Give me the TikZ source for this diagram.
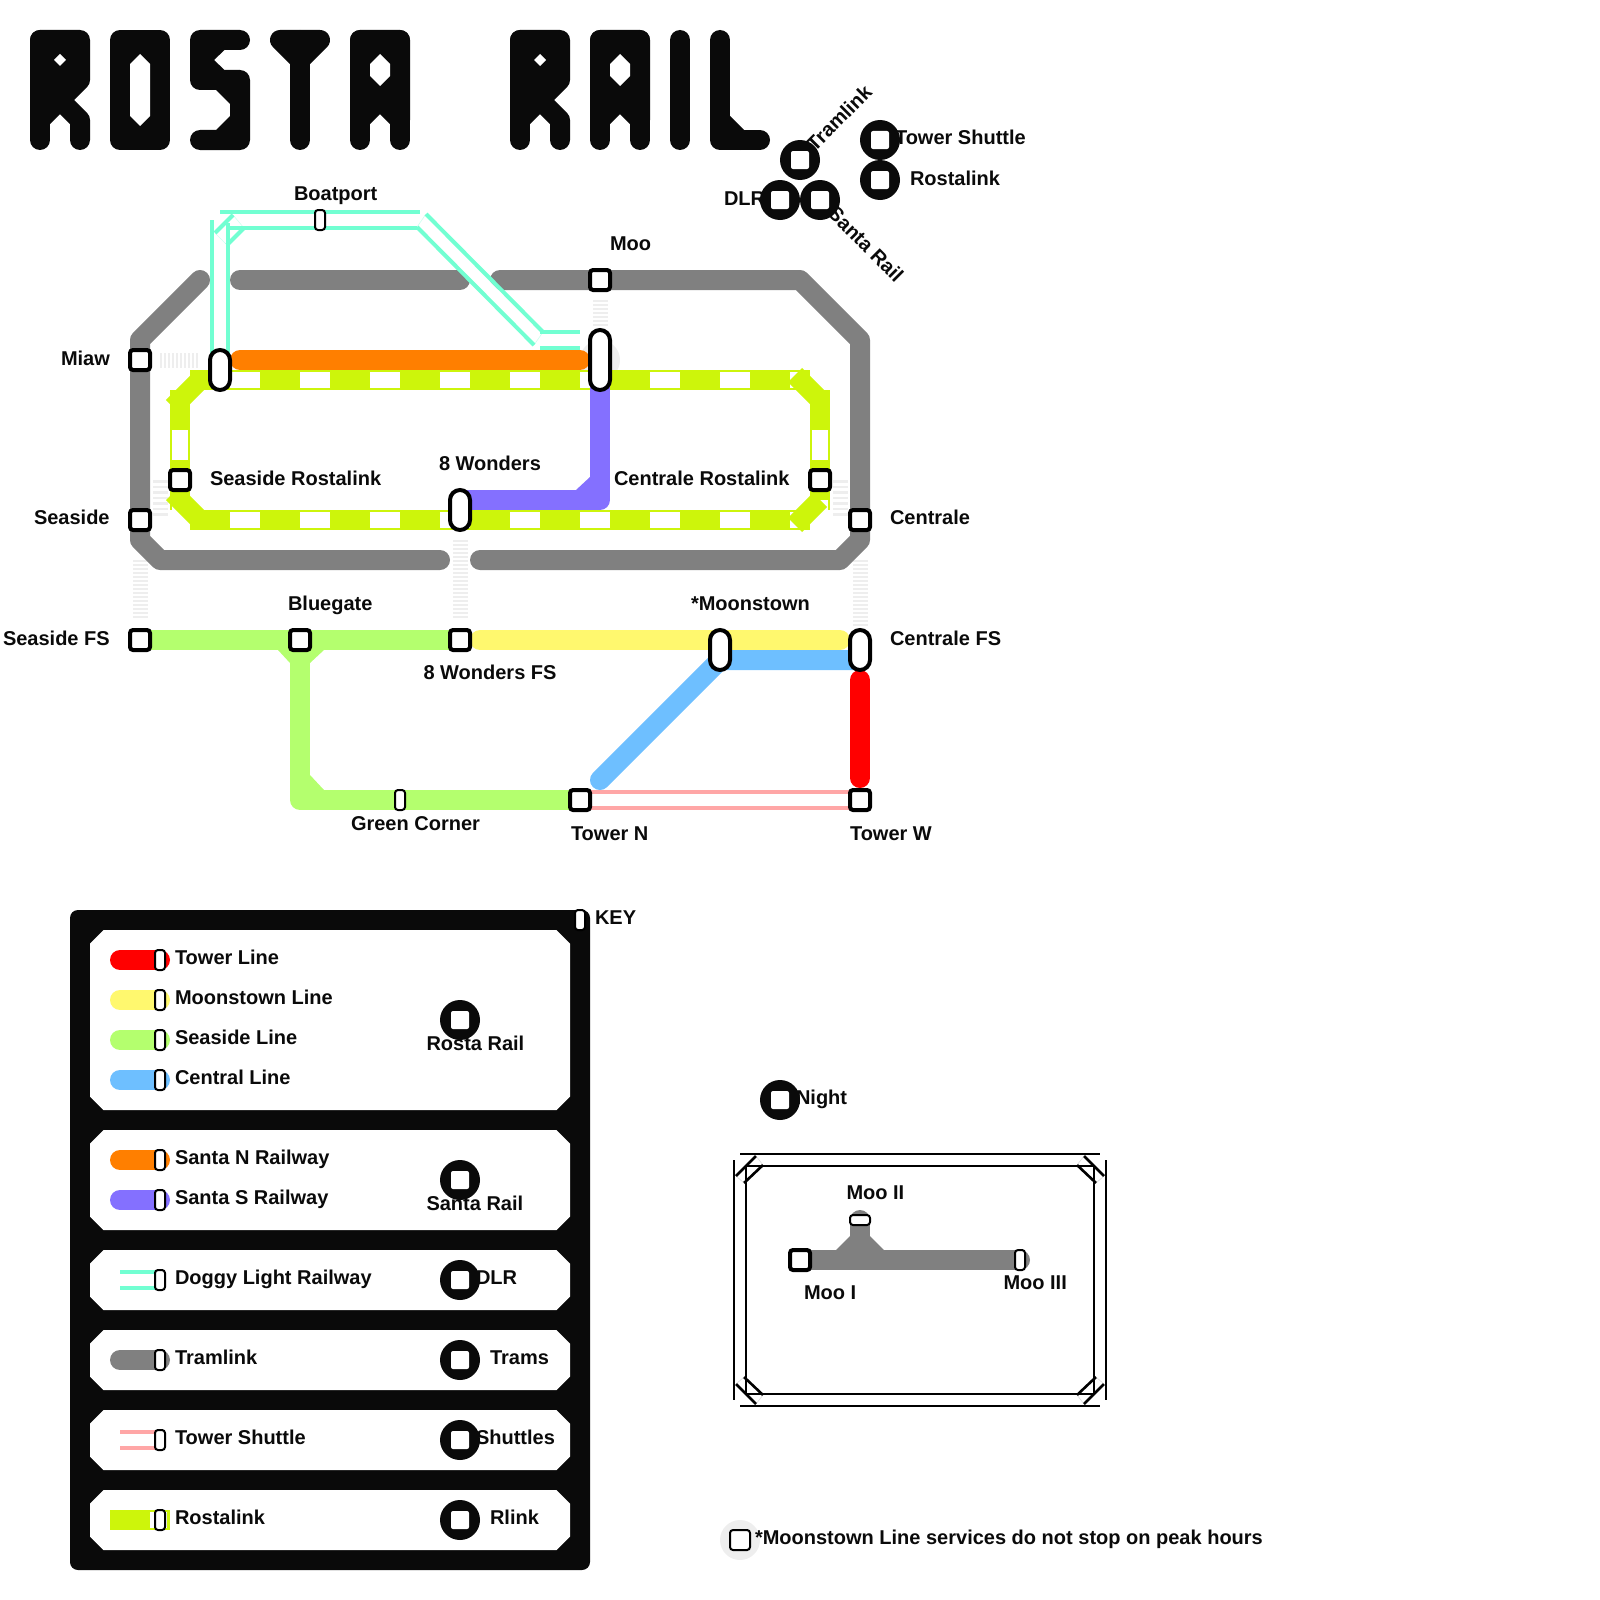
\documentclass[tikz,border=0pt]{standalone}
\usepackage{fontspec}
\setmainfont{Liberation Sans}[BoldFont={Liberation Sans Bold}]
\usetikzlibrary{backgrounds}
\definecolor{ink}{HTML}{0A0A0A}
\definecolor{tramgrey}{HTML}{808080}
\definecolor{rostagreen}{HTML}{CDF50B}
\definecolor{santan}{HTML}{FF7F00}
\definecolor{santas}{HTML}{8470FF}
\definecolor{doggy}{HTML}{72FFD2}
\definecolor{shuttle}{HTML}{FFA6A6}
\definecolor{seaside}{HTML}{B4FF6E}
\definecolor{moonline}{HTML}{FFF86E}
\definecolor{central}{HTML}{6EBFFF}
\definecolor{towerred}{HTML}{FF0000}
\definecolor{faint}{HTML}{EEEEEE}
\tikzset{
  lbl/.style={inner sep=0pt,outer sep=0pt,anchor=base west,font=\bfseries\fontsize{20}{24}\selectfont,text=ink},
  stnbase/.style={draw=black,fill=white,inner sep=0pt,outer sep=0pt,rectangle},
  stn/.style={stnbase,line width=4pt,minimum width=20pt,minimum height=20pt,rounded corners=3pt},
  ichg/.style={stnbase,line width=4pt,minimum width=20pt,minimum height=40pt,rounded corners=10pt},
  ichglong/.style={ichg,minimum height=60pt},
  halt/.style={stnbase,line width=2pt,minimum width=10pt,minimum height=20pt,rounded corners=3pt},
  halth/.style={stnbase,line width=2pt,minimum width=20pt,minimum height=10pt,rounded corners=3pt},
  keydisc/.style={circle,fill=ink,minimum size=40pt,inner sep=0pt,outer sep=0pt},
  keysq/.style={rectangle,fill=white,minimum size=18pt,inner sep=0pt,outer sep=0pt,rounded corners=2pt},
  fatline/.style={line width=20pt,line cap=round,line join=round},
  fatbutt/.style={line width=20pt,line cap=butt,line join=miter},
  rostadash/.style={white,line width=15.5pt,dash pattern=on 30pt off 40pt},
  hatch/.style={faint,line width=15pt,dash pattern=on 2pt off 2pt},
  hatchw/.style={faint,line width=15pt,dash pattern=on 2.5pt off 3pt},
  track/.style={line width=4pt,line cap=butt},
  trackedge/.style={doggy,line width=.6pt,opacity=.35},
  frameline/.style={line width=2.6pt,black},
  frameedge/.style={gray,line width=.6pt,opacity=.3},
  titlestroke/.style={draw=ink,line width=20pt,line cap=round,line join=round},
  titlefill/.style={titlestroke,fill=ink},
  panel/.style={fill=white},
}
\newcommand{\glyphR}{%
  \filldraw[titlefill] (40,40)--(80,40)--(80,80)--(60,100)--(40,120)--cycle;
  \draw[titlestroke] (40,40)--(40,140);
  \draw[titlestroke] (60,100)--(80,120)--(80,140);
  \fill[white] (60,54)--(66,60)--(60,66)--(54,60)--cycle;}
\newcommand{\glyphA}{%
  \filldraw[titlefill] (360,40)--(400,40)--(400,120)--(380,100)--(360,120)--cycle;
  \draw[titlestroke] (360,40)--(360,140);
  \draw[titlestroke] (400,40)--(400,140);
  \fill[white] (380,54)--(390,64)--(390,76)--(380,86)--(370,76)--(370,64)--cycle;}
\newcommand{\pnl}[2]{\fill[panel] (90,#1+13.5)--(103.5,#1)--(556.5,#1)--(570,#1+13.5)--(570,#2-13.5)--(556.5,#2)--(103.5,#2)--(90,#2-13.5)--cycle;}
\begin{document}
\begin{tikzpicture}[x=1pt,y=-1pt]
\useasboundingbox (0,0) rectangle (1600,1600);

% ---- title, drawn in the reference's block lettering
\glyphR
\begin{scope}[xshift=480pt]\glyphR\end{scope}
\filldraw[titlefill] (120,40) rectangle (160,140);
\fill[white] (140,54)--(150,64)--(150,116)--(140,126)--(130,116)--(130,64)--cycle;
\fill[ink] (200,30)--(240,30)--(240,50)--(224.5,50)--(214,60)--(224.5,70)--(240,70)--(250,80)--(250,140)--(240,150)--(200,150)--(200,130)--(216,130)--(230,116)--(230,104)--(216,90)--(200,90)--(190,80)--(190,40)--cycle;
\draw[titlestroke] (240,40)--(200,40)--(200,80);
\draw[titlestroke] (240,80)--(240,140)--(200,140);
\filldraw[titlefill] (280,40)--(320,40)--(300,60)--cycle;
\draw[titlestroke] (300,40)--(300,140);
\glyphA
\begin{scope}[xshift=240pt]\glyphA\end{scope}
\draw[titlestroke] (680,40)--(680,140);
\draw[titlestroke] (720,40)--(720,140)--(760,140);
\draw[titlestroke] (720,120)--(740,140);
\node[lbl,opacity=0,anchor=center] (titletext) at (400,90) {ROSTA RAIL};

% ---- stations
\node[stn] (miaw) at (140,360) {};
\node[stn] (seasideS) at (140,520) {};
\node[stn] (seasideFS) at (140,640) {};
\node[stn] (bluegate) at (300,640) {};
\node[stn] (wondersFS) at (460,640) {};
\node[stn] (mooS) at (600,280) {};
\node[stn] (seaRost) at (180,480) {};
\node[stn] (cenRost) at (820,480) {};
\node[stn] (centrale) at (860,520) {};
\node[stn] (towerN) at (580,800) {};
\node[stn] (towerW) at (860,800) {};
\node[ichg] (boatLeft) at (220,370) {};
\node[ichglong] (mooIchg) at (600,360) {};
\node[ichg] (wonders) at (460,510) {};
\node[ichg] (moonstown) at (720,650) {};
\node[ichg] (centraleFS) at (860,650) {};
\node[halt] (boatport) at (320,220) {};
\node[halt] (greenC) at (400,800) {};

% ---- lines, under the stations
\begin{pgfonlayer}{background}
  % out-of-station links
  \fill[faint] (mooIchg.center) circle (20);
  \coordinate (h1a) at (160,360); \coordinate (h1b) at (198,360);
  \draw[hatch] (h1a)--(h1b);
  \coordinate (h2a) at (160,480); \coordinate (h2b) at (160,518);
  \draw[hatchw] (h2a)--(h2b);
  \coordinate (h3a) at (840,480); \coordinate (h3b) at (840,518);
  \draw[hatchw] (h3a)--(h3b);
  \coordinate (h4a) at (140,560); \coordinate (h4b) at (140,618);
  \draw[hatch] (h4a)--(h4b);
  \coordinate (h5a) at (860,560); \coordinate (h5b) at (860,628);
  \draw[hatch] (h5a)--(h5b);
  \coordinate (h6a) at (460,540); \coordinate (h6b) at (460,618);
  \draw[hatch] (h6a)--(h6b);
  \coordinate (h7a) at (600,300); \coordinate (h7b) at (600,328);
  \draw[hatch] (h7a)--(h7b);

  % tramlink
  \draw[tramgrey,fatline] (200,280)--(140,340)--(miaw.center)--(seasideS.center)--(140,540)--(160,560)--(440,560);
  \draw[tramgrey,fatline] (240,280)--(460,280);
  \draw[tramgrey,fatline] (500,280)--(mooS.center)--(800,280)--(860,340)--(centrale.center)--(860,540)--(840,560)--(480,560);

  % rostalink
  \draw[rostagreen,fatbutt] (190,380)--(810,380);
  \draw[rostagreen,fatbutt] (190,520)--(810,520);
  \draw[rostagreen,fatbutt] (180,390)--(180,510);
  \draw[rostagreen,fatbutt] (820,390)--(820,510);
  \coordinate (d1a) at (230,380); \coordinate (d1b) at (800,380);
  \coordinate (d2a) at (230,520); \coordinate (d2b) at (800,520);
  \coordinate (d3a) at (180,430); \coordinate (d3b) at (180,510);
  \coordinate (d4a) at (820,430); \coordinate (d4b) at (820,510);
  \draw[rostadash] (d1a)--(d1b);
  \draw[rostadash] (d2a)--(d2b);
  \draw[rostadash] (d3a)--(d3b);
  \draw[rostadash] (d4a)--(d4b);
  \draw[rostagreen,fatbutt] (200,380)--(173,407);
  \draw[rostagreen,fatbutt] (200,520)--(173,493);
  \draw[rostagreen,fatbutt] (795,375)--(820,400);
  \draw[rostagreen,fatbutt] (795,525)--(820,500);

  % santa
  \draw[santan,fatline] (240,360)--(580,360);
  \draw[santas,fatline,line cap=butt] (mooIchg.center)--(600,500)--(wonders.center|-600,500);
  \fill[santas] (590,477)--(590,490)--(576,490)--cycle;

  % doggy light railway
  \draw[white,line width=12pt] (420,220)--(540,340);
  \draw[doggy,track] (220,212)--(420,212);
  \draw[doggy,track] (226,228)--(417,228);
  \draw[doggy,track] (212,220)--(212,370);
  \draw[doggy,track] (228,223)--(228,370);
  \draw[doggy,track] (233,215)--(215,233);
  \draw[doggy,track] (244,228)--(227,245);
  \draw[doggy,track] (426,214)--(543,332);
  \draw[doggy,track] (417,227)--(534,345);
  \draw[doggy,track] (540,332)--(580,332);
  \draw[doggy,track] (540,348)--(580,348);
  \draw[trackedge] (233,215)--(244,228);
  \draw[trackedge] (215,233)--(227,245);
  \draw[trackedge] (426,214)--(417,227);
  \draw[trackedge] (543,332)--(534,345);

  % seaside line
  \draw[seaside,fatline] (seasideFS.center)--(wondersFS.center);
  \draw[seaside,fatline] (bluegate.center)--(300,800)--(towerN.center);
  \fill[seaside] (278,650)--(290,663)--(310,663)--(324,650)--cycle;
  \fill[seaside] (310,775)--(324,790)--(310,790)--cycle;
  % moonstown line
  \draw[moonline,fatline] (480,640)--(840,640);
  % central line
  \draw[central,fatline] (600,780)--(moonstown.center|-720,660)--(centraleFS.center|-860,660);
  % tower line
  \draw[towerred,fatline] (860,680)--(860,778);
  % tower shuttle
  \draw[shuttle,track] (towerN.center|-580,792)--(towerW.center|-860,792);
  \draw[shuttle,track] (towerN.center|-580,808)--(towerW.center|-860,808);
\end{pgfonlayer}

% ---- map labels
\node[lbl] (lBoat) at (294,200) {Boatport};
\node[lbl] (lMoo) at (610,250) {Moo};
\node[lbl] (lMiaw) at (61,365) {Miaw};
\node[lbl] (lSeaside) at (34,524) {Seaside};
\node[lbl] (lSeaRost) at (210,485) {Seaside Rostalink};
\node[lbl] (lWonders) at (439,470) {8 Wonders};
\node[lbl] (lCenRost) at (614,485) {Centrale Rostalink};
\node[lbl] (lCentrale) at (890,524) {Centrale};
\node[lbl] (lSeaFS) at (3,645) {Seaside FS};
\node[lbl] (lBlue) at (288,610) {Bluegate};
\node[lbl] (lMoonst) at (691,610) {*Moonstown};
\node[lbl] (lCenFS) at (890,645) {Centrale FS};
\node[lbl] (lWonFS) at (423.5,679.5) {8 Wonders FS};
\node[lbl] (lGreen) at (351,830) {Green Corner};
\node[lbl] (lTowN) at (571,840) {Tower N};
\node[lbl] (lTowW) at (850,840) {Tower W};

% ---- operators cluster
\foreach \nm/\px/\py in {a/800/160,b/780/200,c/820/200,d/880/140,e/880/180}{
  \node[keydisc] (disc\nm) at (\px,\py) {};
  \node[keysq] (sq\nm) at (\px,\py) {};
}
\node[lbl,anchor=center,rotate=45] (lTram) at (839,118) {Tramlink};
\node[lbl,anchor=center,rotate=-45] (lSanta) at (866,244) {Santa Rail};
\node[lbl] (lDLR) at (724,205) {DLR};
\node[lbl] (lShut) at (895,145) {Tower Shuttle};
\node[lbl] (lRost) at (910,185) {Rostalink};

% ---- key
\fill[ink,rounded corners=8pt] (70,910) rectangle (590,1570);
\pnl{930}{1110}
\pnl{1130}{1230}
\pnl{1250}{1310}
\pnl{1330}{1390}
\pnl{1410}{1470}
\pnl{1490}{1550}
\node[halt] (keyStn) at (580,920) {};
\node[lbl] (lKey) at (595,924) {KEY};

\foreach \nm/\py/\col/\txt in {k1/960/towerred/Tower Line,k2/1000/moonline/Moonstown Line,k3/1040/seaside/Seaside Line,k4/1080/central/Central Line,k5/1160/santan/Santa N Railway,k6/1200/santas/Santa S Railway,k8/1360/tramgrey/Tramlink}{
  \coordinate (\nm a) at (120,\py);
  \coordinate (\nm b) at (160,\py);
  \draw[\col,fatline] (\nm a)--(\nm b);
  \node[halt] (\nm) at (\nm b) {};
  \node[lbl] (\nm t) at (175,\py+4) {\txt};
}
\foreach \nm/\py/\col/\txt in {k7/1280/doggy/Doggy Light Railway,k9/1440/shuttle/Tower Shuttle}{
  \coordinate (\nm a) at (120,\py);
  \coordinate (\nm b) at (160,\py);
  \draw[\col,track] ([yshift=8pt]\nm a)--([yshift=8pt]\nm b);
  \draw[\col,track] ([yshift=-8pt]\nm a)--([yshift=-8pt]\nm b);
  \node[halt] (\nm) at (\nm b) {};
  \node[lbl] (\nm t) at (175,\py+4) {\txt};
}
\coordinate (k10a) at (110,1520); \coordinate (k10b) at (170,1520);
\draw[rostagreen,fatbutt] (k10a)--(k10b);
\fill[white] (150,1512.2) rectangle (167,1527.8);
\node[halt] (k10) at (160,1520) {};
\node[lbl] (k10t) at (175,1524) {Rostalink};

\foreach \nm/\py in {r1/1020,r2/1180,r3/1280,r4/1360,r5/1440,r6/1520}{
  \node[keydisc] (disc\nm) at (460,\py) {};
  \node[keysq] (sq\nm) at (460,\py) {};
}
\node[lbl] (tRosta) at (426.5,1050) {Rosta Rail};
\node[lbl] (tSanta) at (426.5,1210) {Santa Rail};
\node[lbl] (tDLR) at (476,1284) {DLR};
\node[lbl] (tTrams) at (490,1364) {Trams};
\node[lbl] (tShut) at (476,1444) {Shuttles};
\node[lbl] (tRlink) at (490,1524) {Rlink};

% ---- night
\node[keydisc] (discN) at (780,1100) {};
\node[keysq] (sqN) at (780,1100) {};
\node[lbl] (lNight) at (796,1104.5) {Night};

% ---- Moo inset
\draw[frameline] (740,1154)--(1100,1154);
\draw[frameline] (746,1166)--(1094,1166);
\draw[frameline] (740,1406)--(1100,1406);
\draw[frameline] (746,1394)--(1094,1394);
\draw[frameline] (734,1160)--(734,1400);
\draw[frameline] (746,1166)--(746,1394);
\draw[frameline] (1106,1160)--(1106,1400);
\draw[frameline] (1094,1166)--(1094,1394);
\draw[frameline] (756,1156)--(736,1176);
\draw[frameline] (763,1165)--(744,1183);
\draw[frameline] (1084,1156)--(1104,1176);
\draw[frameline] (1077,1165)--(1096,1183);
\draw[frameline] (756,1404)--(736,1384);
\draw[frameline] (763,1395)--(744,1377);
\draw[frameline] (1084,1404)--(1104,1384);
\draw[frameline] (1077,1395)--(1096,1377);
\draw[frameedge] (756,1156)--(763,1165);
\draw[frameedge] (736,1176)--(744,1183);
\draw[frameedge] (1084,1156)--(1077,1165);
\draw[frameedge] (1104,1176)--(1096,1183);
\draw[frameedge] (756,1404)--(763,1395);
\draw[frameedge] (736,1384)--(744,1377);
\draw[frameedge] (1084,1404)--(1077,1395);
\draw[frameedge] (1104,1384)--(1096,1377);

\coordinate (mooJ) at (860,1260);
\node[stn] (moo1) at (800,1260) {};
\node[halth] (moo2) at (860,1220) {};
\node[halt] (moo3) at (1020,1260) {};
\begin{pgfonlayer}{background}
  \draw[tramgrey,fatline] (moo1.center)--(moo3.center);
  \draw[tramgrey,fatline] (moo2.center)--(mooJ);
  \fill[tramgrey] (850,1236)--(836,1250)--(884,1250)--(870,1236)--cycle;
\end{pgfonlayer}
\node[lbl] (lMoo2) at (846.5,1199) {Moo II};
\node[lbl] (lMoo1) at (804,1299) {Moo I};
\node[lbl] (lMoo3) at (1003.5,1289) {Moo III};

% ---- footnote
\fill[faint] (740,1540) circle (20);
\node[stnbase,line width=2pt,minimum width=20pt,minimum height=20pt,rounded corners=3pt] (noteStn) at (740,1540) {};
\node[lbl] (lNote) at (755,1544.5) {*Moonstown Line services do not stop on peak hours};
\end{tikzpicture}
\end{document}
